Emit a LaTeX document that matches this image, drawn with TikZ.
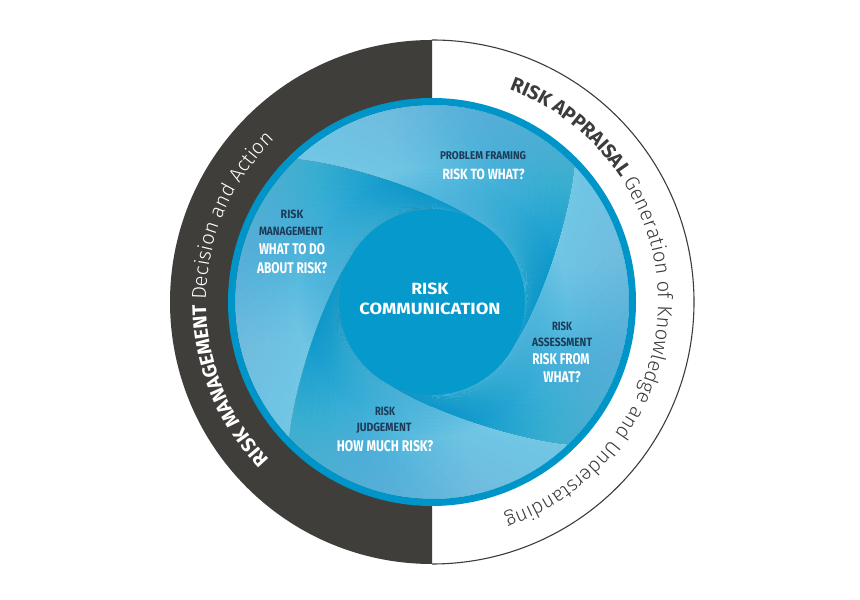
\documentclass[tikz,border=0pt]{standalone}
\usepackage{fontspec}
\usepackage{graphicx}
\setmainfont{Fira Sans}
\newfontfamily\lightfont{Fira Sans Light}
\usetikzlibrary{decorations.text}
\definecolor{bandgray}{HTML}{403E3B}
\definecolor{ringblue}{HTML}{0095C8}
\definecolor{blobblue}{HTML}{0699CB}
\definecolor{lightbase}{HTML}{72C6E4}
\definecolor{darkmid}{HTML}{149DCF}
\definecolor{rimlight}{HTML}{9AD8EE}
\definecolor{navytext}{HTML}{1C3B58}
\definecolor{arcgray}{HTML}{3C3C3C}
\newcommand\fitcap[3]{\resizebox{#1bp}{#2bp}{\bfseries #3}}
\newcommand\arcbold{\fontsize{19.8}{19.8}\selectfont\bfseries}
\newcommand\arcreg{\fontsize{20.3}{20.3}\selectfont\lightfont}
\newcommand\arcregb{\fontsize{20.4}{20.4}\selectfont\lightfont}
\begin{document}
\begin{tikzpicture}[x=1bp,y=1bp,
  darklbl/.style={text=navytext, inner sep=0pt, anchor=center},
  whitelbl/.style={text=white, inner sep=0pt, anchor=center}]
\useasboundingbox (0,0) rectangle (860,600);
\fill[white] (0,0) rectangle (860,600);
\coordinate (C) at (432,298);
\begin{scope}[shift={(C)}]
  % outer band
  \fill[bandgray] (90:262) arc[start angle=90,end angle=270,radius=262] -- cycle;
  \draw[arcgray, line width=1.1pt] (90:262) arc[start angle=90,end angle=-90,radius=262];
  % inner swirl disk
  \begin{scope}
    \clip (0,0) circle (197);
    \foreach \k in {0,1,2,3} {
      \foreach \j in {0,...,29} {
        \pgfmathsetmacro\a{90*\k + 3*\j}
        \pgfmathsetmacro\b{\a + 3 + 0.6*(\j<29)}
        \pgfmathsetmacro\t{100*(\j/29)^1.2}
        \fill[color=darkmid!\t!lightbase]
          (134-\a:199) .. controls (120.1-\a:159.5) and (78.1-\a:106.3) .. (50-\a:92)
          -- (0,0) -- (50-\b:92)
          .. controls (78.1-\b:106.3) and (120.1-\b:159.5) .. (134-\b:199)
          arc[start angle=134-\b, end angle=134-\a, radius=199] -- cycle;
      }
    }
    \foreach \r in {130,133,...,195}
      \fill[rimlight, opacity=0.025, even odd rule] (0,0) circle (197) circle (\r);
    \foreach \r in {97,101,...,133}
      \fill[blobblue, opacity=0.04, even odd rule] (0,0) circle (\r) circle (93);
    \fill[blobblue] (0,0) circle (93);
  \end{scope}
  \draw[ringblue, line width=7bp] (0,0) circle (200.5);
  % curved texts
  \path[decorate, decoration={text along path, text align=left, text color=white,
      text={|\arcbold|RISK MANAGEMENT |\arcreg|Decision and Action}}]
    (224:226) arc[start angle=224, end angle=118, radius=226];
  \path[decorate, decoration={text along path, text align=left, text color=arcgray,
      text={|\arcbold|RISK APPRAISAL |\arcregb|Generation of Knowledge and Understanding}}]
    (70:226) arc[start angle=70, end angle=-85, radius=226];
\end{scope}
% labels
\node[darklbl]  (pf1) at (483,444.5) {\fitcap{86}{8}{PROBLEM FRAMING}};
\node[whitelbl] (pf2) at (483.5,425.7) {\fitcap{82}{10.5}{RISK TO WHAT?}};
\node[darklbl]  (rm1) at (292,385.5) {\fitcap{22.7}{8.5}{RISK}};
\node[darklbl]  (rm2) at (291,368.5) {\fitcap{64}{8.5}{MANAGEMENT}};
\node[whitelbl] (rm3) at (292,351) {\fitcap{66}{11}{WHAT TO DO}};
\node[whitelbl] (rm4) at (292,332) {\fitcap{70}{11}{ABOUT RISK?}};
\node[whitelbl] (rc1) at (430,311) {\fitcap{37.3}{11.5}{RISK}};
\node[whitelbl] (rc2) at (430,291.5) {\fitcap{141}{11.5}{COMMUNICATION}};
\node[darklbl]  (ra1) at (562,274) {\fitcap{20}{8.5}{RISK}};
\node[darklbl]  (ra2) at (562,257.5) {\fitcap{60}{8.5}{ASSESSMENT}};
\node[whitelbl] (ra3) at (561,241) {\fitcap{57.3}{11}{RISK FROM}};
\node[whitelbl] (ra4) at (562,222.5) {\fitcap{37.3}{11}{WHAT?}};
\node[darklbl]  (rj1) at (385,189) {\fitcap{20}{8.5}{RISK}};
\node[darklbl]  (rj2) at (384,172) {\fitcap{55}{8.5}{JUDGEMENT}};
\node[whitelbl] (rj3) at (385,154) {\fitcap{96.3}{11}{HOW MUCH RISK?}};
\end{tikzpicture}
\end{document}
